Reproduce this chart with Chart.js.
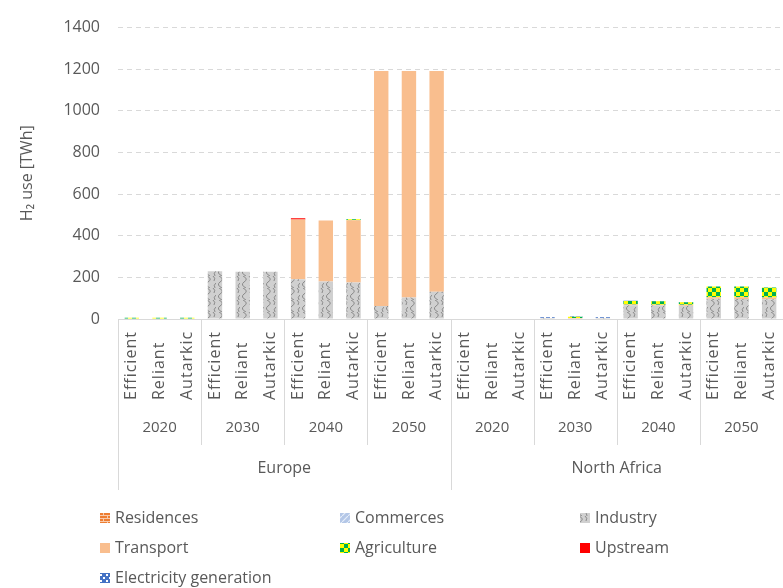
<!DOCTYPE html>
<html>
<head>
<meta charset="utf-8">
<script src="https://cdn.jsdelivr.net/npm/chart.js@4"></script>
<style>
  body { margin: 0; background: #fff; }
</style>
</head>
<body>
<canvas id="h2Chart" width="783" height="588"></canvas>
<script>
// categories, nested region > year > scenario
const regions = ['Europe', 'North Africa'];
const years = ['2020', '2030', '2040', '2050'];
const scenarios = ['Efficient', 'Reliant', 'Autarkic'];

// H2 use in TWh, one value per bar (Europe 2020 E/R/A, 2030 E/R/A, ... North Africa ...)
const residences  = [0,0,0, 0,0,0, 0,0,0, 0,0,0,        0,0,0, 0,0,0, 0,0,0, 0,0,0];
const commerces   = [0,0,0, 0,0,0, 0,0,0, 0,0,0,        0,0,0, 2,0,2, 0,0,0, 0,0,0];
const industry    = [0,0,0, 230,227,227, 191,180,175, 62,103,131,   0,0,0, 3,3,3, 66,65,64, 97,96,95];
const transport   = [0,0,0, 0,0,0, 287,293,300, 1130,1088,1060,     0,0,0, 0,2,0, 4,4,4, 8,8,8];
const agriculture = [6,6,6, 0,0,0, 0,0,4, 0,0,0,        0,0,0, 0,6,0, 16,16,12, 51,52,48];
const upstream    = [0,0,0, 0,0,0, 6,0,0, 0,0,0,        0,0,0, 0,0,0, 0,0,0, 0,0,0];
const electricity = [0,0,0, 0,0,0, 0,0,0, 0,0,0,        0,0,0, 4,2,4, 2,2,2, 0,0,0];

const yMax = 1400;
const yStep = 200;

const textColor = '#595959';
const lineColor = '#d9d9d9';
const fontFamily = '"Open Sans", sans-serif';

// small tiles to mimic the office fill patterns
function makePattern(w, h, draw) {
  const c = document.createElement('canvas');
  c.width = w; c.height = h;
  const g = c.getContext('2d');
  draw(g, w, h);
  return g.createPattern(c, 'repeat');
}

const brickFill = makePattern(8, 6, (g) => {
  g.fillStyle = '#ed7d31'; g.fillRect(0, 0, 8, 6);
  g.fillStyle = '#f8cbad';
  g.fillRect(0, 2, 8, 1); g.fillRect(0, 5, 8, 1);
  g.fillRect(3, 0, 1, 2); g.fillRect(7, 3, 1, 2);
});
const diagFill = makePattern(6, 6, (g) => {
  g.fillStyle = '#b4c7e7'; g.fillRect(0, 0, 6, 6);
  g.strokeStyle = '#e6eef9'; g.lineWidth = 1.2;
  g.beginPath(); g.moveTo(0, 6); g.lineTo(6, 0); g.stroke();
});
const waveFill = makePattern(12, 12, (g) => {
  g.fillStyle = '#d0d0d0'; g.fillRect(0, 0, 12, 12);
  g.strokeStyle = '#8a8a8a'; g.lineWidth = 1;
  g.beginPath();
  g.moveTo(3, 0); g.quadraticCurveTo(9, 3, 4, 6); g.quadraticCurveTo(0, 9, 6, 12);
  g.moveTo(9, 0); g.quadraticCurveTo(12, 2, 10, 5);
  g.moveTo(12, 7); g.quadraticCurveTo(9, 9, 11, 12);
  g.stroke();
});
const checkerFill = makePattern(8, 8, (g) => {
  g.fillStyle = '#ffff00'; g.fillRect(0, 0, 8, 8);
  g.fillStyle = '#00b050';
  g.fillRect(0, 0, 4, 4); g.fillRect(4, 4, 4, 4);
});
const dotFill = makePattern(6, 6, (g) => {
  g.fillStyle = '#4472c4'; g.fillRect(0, 0, 6, 6);
  g.fillStyle = '#ffffff';
  g.fillRect(1, 1, 2, 2); g.fillRect(4, 4, 2, 2);
});

const series = [
  { name: 'Residences', data: residences, fill: brickFill },
  { name: 'Commerces', data: commerces, fill: diagFill },
  { name: 'Industry', data: industry, fill: waveFill },
  { name: 'Transport', data: transport, fill: '#f9be8e' },
  { name: 'Agriculture', data: agriculture, fill: checkerFill },
  { name: 'Upstream', data: upstream, fill: '#ff0000' },
  { name: 'Electricity generation', data: electricity, fill: dotFill }
];

const labels = [];
regions.forEach(r => years.forEach(y => scenarios.forEach(s => labels.push(r + ' ' + y + ' ' + s))));

// draws the three-level category axis below the bars
const groupAxis = {
  id: 'groupAxis',
  afterDraw(chart) {
    const { ctx, chartArea, scales: { x } } = chart;
    const base = chartArea.bottom;
    const slot = x.width / labels.length;
    ctx.save();
    ctx.fillStyle = textColor;

    ctx.font = '16px ' + fontFamily;
    ctx.letterSpacing = '1px';
    ctx.textAlign = 'left';
    ctx.textBaseline = 'middle';
    labels.forEach((l, i) => {
      ctx.save();
      ctx.translate(x.getPixelForValue(i), base + 81);
      ctx.rotate(-Math.PI / 2);
      ctx.fillText(scenarios[i % scenarios.length], 0, 0);
      ctx.restore();
    });
    ctx.letterSpacing = '0px';

    ctx.strokeStyle = lineColor;
    ctx.lineWidth = 1;
    const perYear = scenarios.length;
    const nGroups = regions.length * years.length;
    for (let g = 0; g <= nGroups; g++) {
      const px = Math.round(x.left + g * perYear * slot) + 0.5;
      const isRegion = g % years.length === 0;
      ctx.beginPath();
      ctx.moveTo(px, base);
      ctx.lineTo(px, base + (isRegion ? 171 : 126));
      ctx.stroke();
    }

    ctx.textAlign = 'center';
    ctx.font = '15px ' + fontFamily;
    for (let g = 0; g < nGroups; g++) {
      const cx = x.left + (g + 0.5) * perYear * slot;
      ctx.fillText(years[g % years.length], cx, base + 109);
    }
    ctx.font = '16px ' + fontFamily;
    regions.forEach((r, k) => {
      const span = years.length * perYear * slot;
      ctx.fillText(r, x.left + (k + 0.5) * span, base + 149);
    });
    ctx.restore();
  }
};

// legend in three columns under the axis
const gridLegend = {
  id: 'gridLegend',
  afterDraw(chart) {
    const { ctx } = chart;
    ctx.save();
    ctx.font = '16px ' + fontFamily;
    ctx.textBaseline = 'middle';
    ctx.textAlign = 'left';
    chart.data.datasets.forEach((ds, k) => {
      const lx = 100 + (k % 3) * 240;
      const ly = 518 + Math.floor(k / 3) * 30;
      ctx.fillStyle = ds.backgroundColor;
      ctx.fillRect(lx, ly - 5, 10, 10);
      ctx.fillStyle = textColor;
      ctx.fillText(ds.label, lx + 15, ly);
    });
    ctx.restore();
  }
};

new Chart(document.getElementById('h2Chart'), {
  type: 'bar',
  data: {
    labels: labels,
    datasets: series.map(s => ({
      label: s.name,
      data: s.data,
      backgroundColor: s.fill,
      borderWidth: 0,
      barPercentage: 0.52,
      categoryPercentage: 1
    }))
  },
  options: {
    responsive: false,
    animation: false,
    layout: { padding: { top: 21, right: 0, bottom: 98, left: 0 } },
    scales: {
      x: {
        stacked: true,
        grid: { display: false },
        border: { color: lineColor },
        ticks: { display: false },
        afterFit: (s) => { s.height = 171; }
      },
      y: {
        stacked: true,
        min: 0,
        max: yMax,
        ticks: {
          stepSize: yStep,
          padding: 18,
          color: textColor,
          font: { family: fontFamily, size: 16 },
          callback: v => String(v)
        },
        grid: { color: lineColor, drawTicks: false },
        border: { display: false, dash: [5, 4] },
        title: {
          display: true,
          text: 'H₂ use [TWh]',
          color: textColor,
          font: { family: fontFamily, size: 16 },
          padding: { top: 18, bottom: 0 }
        },
        afterFit: (s) => { s.width = 118; }
      }
    },
    plugins: {
      legend: { display: false },
      tooltip: { enabled: false }
    }
  },
  plugins: [groupAxis, gridLegend]
});
</script>
</body>
</html>
